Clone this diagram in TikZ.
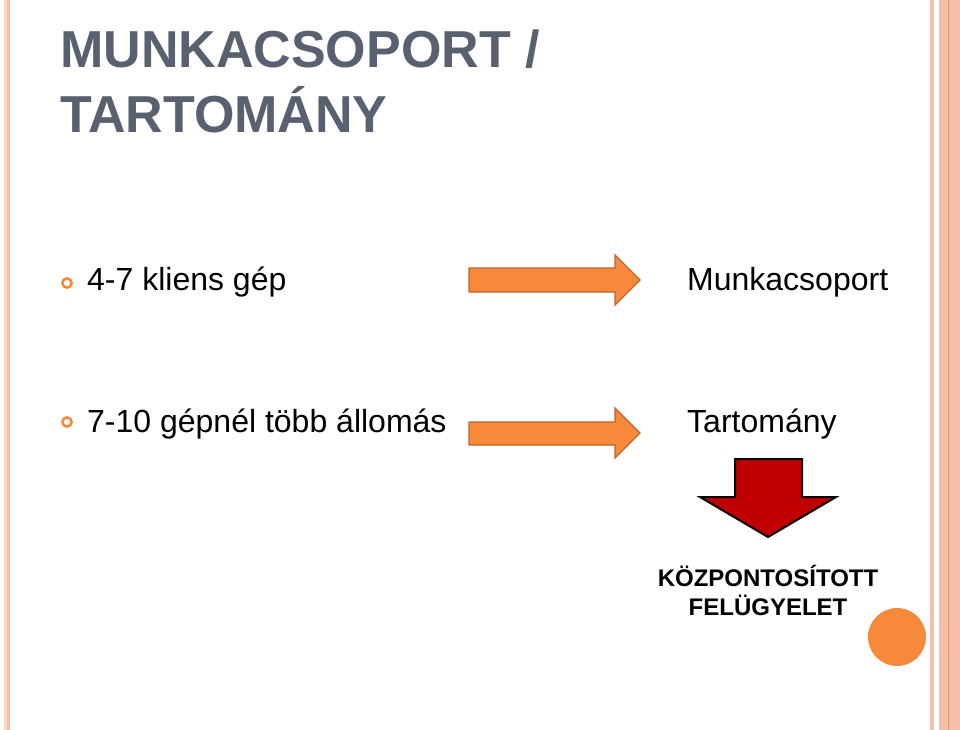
\documentclass[tikz,border=0pt]{standalone}
\usepackage{fontspec}
\setmainfont{Liberation Sans}
\definecolor{titlegray}{RGB}{89,96,112}
\definecolor{accorange}{RGB}{247,137,59}
\definecolor{orangeline}{RGB}{190,100,45}
\definecolor{darkred}{RGB}{192,0,0}
\definecolor{pinklight}{RGB}{248,214,200}
\definecolor{pinkmid}{RGB}{244,190,168}
\definecolor{pinkdark}{RGB}{232,152,120}
\tikzset{
  txt/.style={inner sep=0pt, anchor=base west},
  bodytxt/.style={txt, font=\fontsize{32}{38}\selectfont},
  bullet/.style={draw=accorange, line width=2.6pt, fill=none},
  rarrow/.style={fill=accorange, draw=orangeline, line width=1.3pt, line join=miter},
  darrow/.style={fill=darkred, draw=black, line width=2pt, line join=miter},
}
\begin{document}
\begin{tikzpicture}[x=1pt,y=-1pt]
\useasboundingbox (0,0) rectangle (960,730);
\fill[white] (0,0) rectangle (960,730);
% side borders
\fill[pinklight] (4,0) rectangle (6.5,730);
\fill[pinkmid] (6.5,0) rectangle (9.5,730);
\fill[pinkmid] (930,0) rectangle (934,730);
\fill[pinkmid] (939,0) rectangle (960,730);
\fill[pinkdark] (947.5,0) rectangle (949,730);
% title
\node[txt, text=titlegray, font=\fontsize{52}{65}\bfseries] (t1) at (60,68) {MUNKACSOPORT /};
\node[txt, text=titlegray, font=\fontsize{52}{65}\bfseries] (t2) at (60,133) {TARTOMÁNY};
% bullets
\draw[bullet] (67,283) circle[radius=4.6];
\draw[bullet] (67,422) circle[radius=4.6];
\node[bodytxt] (b1) at (87,290) {4-7 kliens gép};
\node[bodytxt] (b2) at (87,432) {7-10 gépnél több állomás};
\node[bodytxt] (r1) at (687,290) {Munkacsoport};
\node[bodytxt] (r2) at (687,432) {Tartomány};
% orange arrows
\draw[rarrow] (469,268) -- (615,268) -- (615,255) -- (640,280) -- (615,305) -- (615,292) -- (469,292) -- cycle;
\draw[rarrow] (469,422) -- (615,422) -- (615,408) -- (640,433) -- (615,458) -- (615,445) -- (469,445) -- cycle;
% red down arrow
\draw[darrow] (735,459) -- (802,459) -- (802,497) -- (836,497) -- (768,537) -- (700,497) -- (735,497) -- cycle;
% bottom text
\node[inner sep=0pt, anchor=base, font=\fontsize{24}{29}\bfseries] (k1) at (768,586) {KÖZPONTOSÍTOTT};
\node[inner sep=0pt, anchor=base, font=\fontsize{24}{29}\bfseries] (k2) at (768,615) {FELÜGYELET};
% orange dot
\fill[accorange] (897,637) circle[radius=29];
\end{tikzpicture}
\end{document}
